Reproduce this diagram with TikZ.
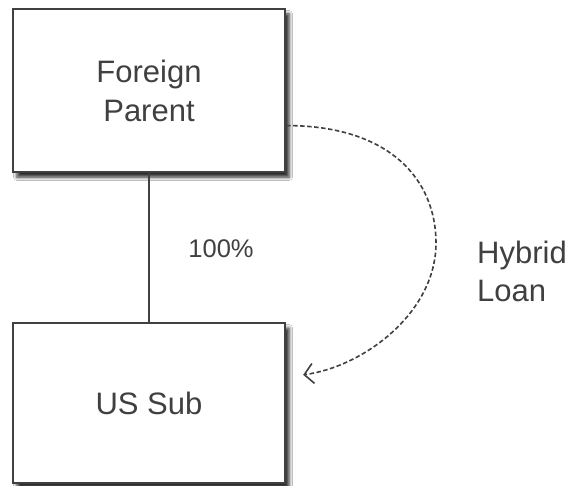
\documentclass[tikz,border=0pt]{standalone}
\usepackage{fontspec}
\setmainfont{Liberation Sans}
\usetikzlibrary{arrows.meta,calc,shadows.blur}
\definecolor{ink}{HTML}{404040}
\begin{document}
\begin{tikzpicture}[x=1pt,y=-1pt,
  entity/.style={draw=ink, line width=2.4pt, fill=white, text=ink,
    minimum width=272pt, minimum height=#1, inner sep=0pt, align=center,
    font=\fontsize{31}{39}\selectfont,
    blur shadow={shadow xshift=4pt, shadow yshift=-5pt,
      shadow blur radius=3.5pt, shadow opacity=85}},
  owns/.style={draw=ink, line width=1.6pt},
  loan/.style={draw=ink, line width=1.6pt, dash pattern=on 4.5pt off 2.5pt,
    -{Straight Barb[length=9pt,width=20pt,line width=1.6pt]}},
  caption/.style={text=ink, inner sep=0pt}]
  \useasboundingbox (0,0) rectangle (569,486);
  \fill[white] (0,0) rectangle (569,486);

  % the two entities
  \node[entity=163pt] (parent) at (149,90.5) {Foreign\\Parent};
  \node[entity=160pt] (sub) at (149,403) {US Sub};

  % ownership link
  \draw[owns] (parent.south) -- (sub.north);
  \node[caption, font=\fontsize{25.5}{30}\selectfont] (pct) at (221,249) {100\%};

  % hybrid loan from parent to subsidiary
  \coordinate (loanStart) at ($(parent.north east)!0.712!(parent.south east)$);
  \coordinate (loanEnd) at ($(sub.north east)+(17,53)$);
  \draw[loan] (loanStart) .. controls +(105,0) and +(0,-62) .. (436,243)
    .. controls +(0,70) and +(60,-8) .. (loanEnd);
  \node[caption, anchor=west, align=left, font=\fontsize{31}{38}\selectfont]
    (hybrid) at (477,271) {Hybrid\\Loan};
\end{tikzpicture}
\end{document}
